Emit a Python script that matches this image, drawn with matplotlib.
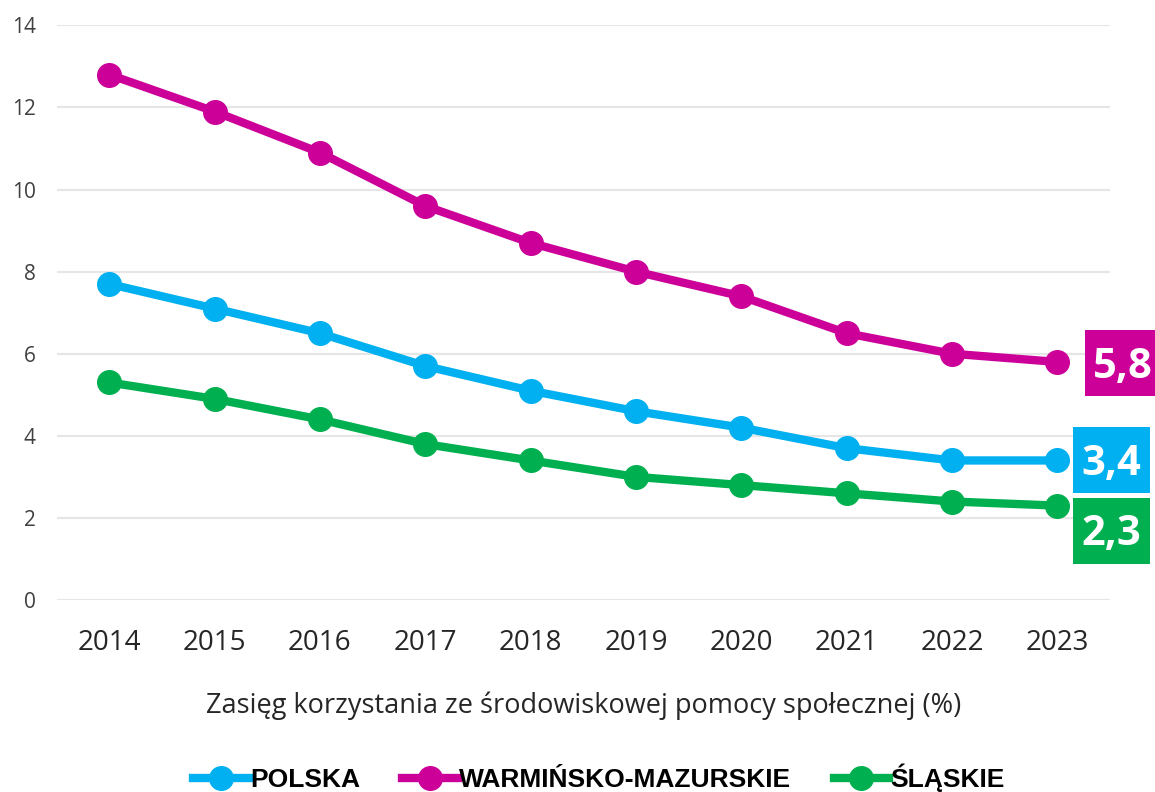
import matplotlib.pyplot as plt
from matplotlib.lines import Line2D
from matplotlib.patches import Rectangle
from matplotlib.transforms import Affine2D, ScaledTranslation

years = ['2014', '2015', '2016', '2017', '2018', '2019', '2020', '2021', '2022', '2023']
polska = [7.7, 7.1, 6.5, 5.7, 5.1, 4.6, 4.2, 3.7, 3.4, 3.4]
warminsko = [12.8, 11.9, 10.9, 9.6, 8.7, 8.0, 7.4, 6.5, 6.0, 5.8]
slaskie = [5.3, 4.9, 4.4, 3.8, 3.4, 3.0, 2.8, 2.6, 2.4, 2.3]

names = ['POLSKA', 'WARMIŃSKO-MAZURSKIE', 'ŚLĄSKIE']
colors = ['#00B0F0', '#CC0099', '#00B050']
series = [polska, warminsko, slaskie]
# centre offsets (points) of the end-value boxes from the last point
offsets = [(39, 0), (47.5, -1), (39, -18)]
box_w, box_h = 55, 47.5  # points
lab_size = 30

plt.rcParams['font.family'] = ['Open Sans', 'DejaVu Sans']

fig = plt.figure(figsize=(11.55, 7.92), dpi=100)
ax = fig.add_axes([0.049, 0.2424, 0.912, 0.7256])

x = list(range(len(years)))
for vals, color in zip(series, colors):
    ax.plot(x, vals, color=color, linewidth=6, marker='o', markersize=17,
            solid_capstyle='round', zorder=3)

ax.set_xlim(-0.5, 9.5)
ax.set_ylim(0, 14)

# end-value boxes, sized in points around the last data point
for vals, color, (dx, dy) in zip(series, colors, offsets):
    trans = Affine2D().scale(fig.dpi / 72) + ScaledTranslation(x[-1], vals[-1], ax.transData)
    ax.add_patch(Rectangle((dx - box_w / 2, dy - box_h / 2), box_w, box_h, transform=trans,
                           facecolor=color, edgecolor='none', clip_on=False, zorder=4))
    ax.annotate(f'{vals[-1]:.1f}'.replace('.', ','), xy=(x[-1], vals[-1]),
                xytext=(dx, dy - 0.714 * lab_size / 2), textcoords='offset points',
                ha='center', va='baseline', fontsize=lab_size, fontweight='bold',
                color='white', annotation_clip=False, zorder=5)

ax.set_yticks(range(0, 15, 2))
ax.set_xticks(x)
ax.set_xticklabels(years)
ax.grid(axis='y', color='#E6E6E6', linewidth=1.5)
ax.set_axisbelow(True)
for s in ax.spines.values():
    s.set_visible(False)
ax.tick_params(axis='y', length=0, labelsize=15, colors='#404040', pad=15)
ax.tick_params(axis='x', length=0, labelsize=20, labelcolor='#262626', pad=21)

ax.set_xlabel('Zasięg korzystania ze środowiskowej pomocy społecznej (%)',
              fontsize=19.5, labelpad=25, color='#262626')

handles = [Line2D([], [], color=c, linewidth=6, marker='o', markersize=17) for c in colors]
ax.legend(handles, names, loc='center', bbox_to_anchor=(0.515, -0.31), ncol=3,
          frameon=False, handlelength=2.1, handletextpad=0.05, columnspacing=1.6,
          prop=dict(family=['Liberation Sans', 'DejaVu Sans'], weight='bold', size=19))

fig.savefig('out.png', dpi=100)
